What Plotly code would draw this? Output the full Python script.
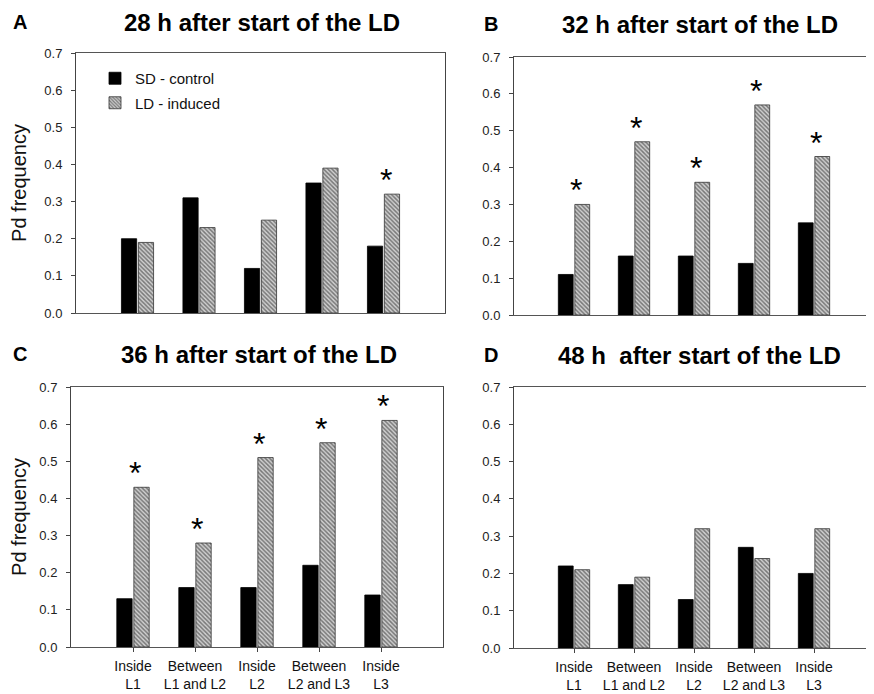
import plotly.graph_objects as go

categories = ["Inside<br>L1", "Between<br>L1 and L2", "Inside<br>L2", "Between<br>L2 and L3", "Inside<br>L3"]
panel_letters = ["A", "B", "C", "D"]
panel_titles = ["28 h after start of the LD", "32 h after start of the LD",
                "36 h after start of the LD", "48 h  after start of the LD"]

sd_A = [0.20, 0.31, 0.12, 0.35, 0.18]
ld_A = [0.19, 0.23, 0.25, 0.39, 0.32]
star_A = [0, 0, 0, 0, 1]

sd_B = [0.11, 0.16, 0.16, 0.14, 0.25]
ld_B = [0.30, 0.47, 0.36, 0.57, 0.43]
star_B = [1, 1, 1, 1, 1]

sd_C = [0.13, 0.16, 0.16, 0.22, 0.14]
ld_C = [0.43, 0.28, 0.51, 0.55, 0.61]
star_C = [1, 1, 1, 1, 1]

sd_D = [0.22, 0.17, 0.13, 0.27, 0.20]
ld_D = [0.21, 0.19, 0.32, 0.24, 0.32]
star_D = [0, 0, 0, 0, 0]

yticks = [0.0, 0.1, 0.2, 0.3, 0.4, 0.5, 0.6, 0.7]

# page body has an 8px margin; size the figure to fit the window
OX, OY = 8, 8
W, H = 874 - OX, 694 - OY
FONT = "Arial, Liberation Sans, sans-serif"


def px(x):
    return (x - OX) / W


def py(y):
    return 1 - (y - OY) / H


# pixel boxes in window coordinates: left, right, top, bottom
boxes = [(76, 445, 53, 313), (514, 874, 57, 315), (71, 443, 387, 647), (514, 874, 387, 648)]
title_pos = [(262, 22), (700, 24), (259, 354), (699, 355)]
letter_pos = [(20, 22), (491, 24), (20, 354), (491, 355)]
data = [(sd_A, ld_A, star_A), (sd_B, ld_B, star_B), (sd_C, ld_C, star_C), (sd_D, ld_D, star_D)]

fig = go.Figure()
xs = list(range(len(categories)))

for i, ((sd, ld, stars), (l, r, t, b)) in enumerate(zip(data, boxes)):
    n = "" if i == 0 else str(i + 1)
    xa, ya = "x" + n, "y" + n
    fig.add_trace(go.Bar(x=xs, y=sd, name="SD - control", xaxis=xa, yaxis=ya,
                         marker=dict(color="black", line=dict(color="black", width=0.8)),
                         showlegend=(i == 0), offsetgroup="sd", legendgroup="sd"))
    fig.add_trace(go.Bar(x=xs, y=ld, name="LD - induced", xaxis=xa, yaxis=ya,
                         marker=dict(color="white", line=dict(color="#333", width=0.8),
                                     pattern=dict(shape="\\", fgcolor="#222", bgcolor="#cfcfcf",
                                                  size=3, solidity=0.5)),
                         showlegend=(i == 0), offsetgroup="ld", legendgroup="ld"))
    bottom_row = i >= 2
    fig.layout["xaxis" + n] = dict(
        domain=[max(0, px(l)), min(1, px(r))], anchor=ya, range=[-1, 5], automargin=False,
        tickvals=xs, ticktext=categories, showticklabels=bottom_row,
        ticks="outside" if bottom_row else "", ticklen=4, tickcolor="#444",
        ticklabelstandoff=2,
        showline=True, linecolor="#555", linewidth=1, mirror=True,
        showgrid=False, zeroline=False,
        tickfont=dict(family=FONT, size=14, color="#111"))
    fig.layout["yaxis" + n] = dict(
        domain=[py(b), py(t)], anchor=xa, range=[0, 0.7], automargin=False,
        tickvals=yticks, tickformat=".1f", ticks="outside", ticklen=4, tickcolor="#444",
        ticklabelstandoff=6,
        showline=True, linecolor="#444", linewidth=1, mirror=True,
        showgrid=False, zeroline=False,
        tickfont=dict(family=FONT, size=13, color="#222"),
        title=dict(text="Pd frequency" if i in (0, 2) else "",
                   font=dict(family=FONT, size=20, color="#111"), standoff=16))
    for j, s in enumerate(stars):
        if s:
            fig.add_annotation(x=xs[j], y=ld[j], xref=xa, yref=ya, text="*",
                               showarrow=False, yanchor="bottom", yshift=-6, xshift=2,
                               font=dict(family=FONT, size=32, color="black"))
    tx, ty = title_pos[i]
    fig.add_annotation(x=px(tx), y=py(ty), xref="paper", yref="paper",
                       text="<b>" + panel_titles[i] + "</b>", showarrow=False,
                       xanchor="center", yanchor="middle",
                       font=dict(family=FONT, size=24, color="black"))
    lx, ly = letter_pos[i]
    fig.add_annotation(x=px(lx), y=py(ly), xref="paper", yref="paper",
                       text="<b>" + panel_letters[i] + "</b>", showarrow=False,
                       xanchor="center", yanchor="middle",
                       font=dict(family=FONT, size=20, color="black"))

fig.update_layout(
    width=W, height=H, margin=dict(l=0, r=0, t=0, b=0),
    paper_bgcolor="white", plot_bgcolor="white",
    barmode="group", bargap=0.45, bargroupgap=0.1,
    font=dict(family=FONT),
    legend=dict(x=px(95), y=py(62), xanchor="left", yanchor="top",
                bgcolor="rgba(0,0,0,0)", font=dict(family=FONT, size=15, color="#111"),
                traceorder="grouped", tracegroupgap=2),
)

fig.write_html("out.html")
